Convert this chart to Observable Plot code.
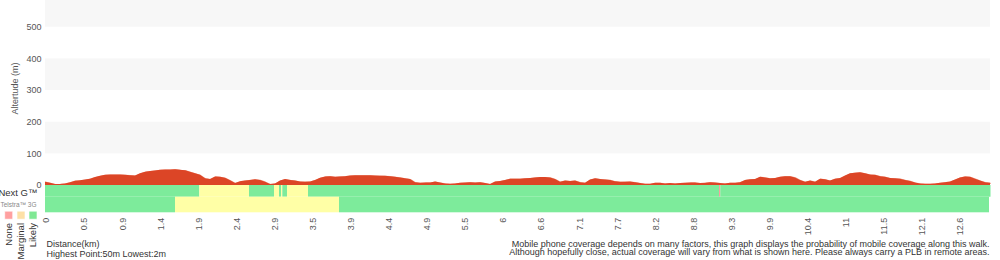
<!DOCTYPE html>
<html>
<head>
<meta charset="utf-8">
<script src="https://cdn.jsdelivr.net/npm/d3@7"></script>
<script src="https://cdn.jsdelivr.net/npm/@observablehq/plot@0.6"></script>
<style>
  html, body { margin: 0; padding: 0; background: #fff; }
  #chart { width: 1000px; height: 260px; }
</style>
</head>
<body>
<div id="chart"></div>
<script>
// ---- data ----
// elevation in metres, one reading per sample step along the walk
const elevation = [
  10.5, 7, 3, 3.5, 5, 8.5, 13.7, 15, 17, 20,
  25, 29, 32, 33, 33, 33, 32, 31, 30, 37,
  42, 44, 46, 48, 49, 49, 50, 48, 47, 42,
  37, 32, 21, 19, 27, 26, 23, 15, 6, 12,
  14, 16, 18, 16, 10.5, 3, 5, 14, 19, 16,
  14, 11, 10.5, 11, 16, 23, 27, 28, 26, 27,
  28, 30, 30.5, 30.5, 30.5, 30.5, 30, 29.5, 29, 28,
  26, 24, 21, 19, 9, 7, 8, 8, 11, 8,
  5, 4, 5, 7, 8, 9, 8, 9, 6, 3,
  11, 12.5, 16, 20, 20, 20, 21, 22, 24, 25,
  25, 24, 19, 10.5, 14, 12.5, 14, 9, 7, 17.5,
  21, 19, 17.5, 16, 12, 10, 10.5, 11, 9, 6,
  4, 4, 7, 7, 5, 6, 5, 6, 7, 8,
  8, 6, 7, 9, 8, 6, 5, 7, 7, 9,
  16, 18, 19, 26, 24, 21, 22, 26, 28, 28,
  24, 16, 10, 14, 10.5, 20, 18, 14, 20, 22,
  30, 37, 39, 40, 37, 33, 32, 28, 26, 22,
  21, 20, 16, 13, 8, 5, 4, 4, 5, 7,
  9, 11, 17.5, 24, 27, 26, 20, 14, 9, 7
];
const tickLabels = ["0","0.5","0.9","1.4","1.9","2.4","2.9","3.5","3.9","4.4","4.9","5.5","6",
  "6.6","7.1","7.7","8.2","8.8","9.3","9.9","10.4","11","11.5","12.1","12.6"];
const levels = ["None", "Marginal", "Likely"];
const networks = ["Next G™", "Telstra™ 3G"];
// coverage segments: [start sample, end sample, level]
const nextGCoverage = [
  [0, 30.86, "Likely"], [30.86, 40.8, "Marginal"], [40.8, 45.8, "Likely"],
  [45.8, 46.8, "Marginal"], [46.8, 47.2, "Likely"], [47.2, 47.46, "Marginal"],
  [47.46, 48.4, "Likely"], [48.4, 52.6, "Marginal"], [52.6, 134.8, "Likely"],
  [134.8, 135.05, "None"], [135.05, 189.1, "Likely"]
];
const telstra3GCoverage = [
  [0, 26, "Likely"], [26, 58.8, "Marginal"], [58.8, 188.8, "Likely"]
];
const highestPoint = 50, lowestPoint = 2;
const yTicks = [0, 100, 200, 300, 400, 500];
const shadedBands = [100, 300, 500];

// ---- layout / style ----
const tickStep = 7.616, tickOffset = 0.2;
const tickPos = tickLabels.map((_, k) => tickOffset + k * tickStep);
const yMax = 584.3, yMin = -86.2;
const rowSplit = -37;
const coverageColors = ["#f7a0a0", "#ffffa6", "#7deb9b"];
const swatchColors = ["#ffa0a0", "#fde0a6", "#7fe894"];
const font = "'Liberation Sans', Arial, Helvetica, sans-serif";

const rows = [
  ...nextGCoverage.map(([a, b, l]) => ({x1: a, x2: b, y1: rowSplit, y2: 0, level: l})),
  ...telstra3GCoverage.map(([a, b, l]) => ({x1: a, x2: b, y1: yMin, y2: rowSplit, level: l}))
];
const legendDx = [-36.8, -24.5, -12.5];

const chart = Plot.plot({
  width: 1000,
  height: 260,
  marginLeft: 45,
  marginRight: 10,
  marginTop: 0,
  marginBottom: 47.7,
  style: {fontFamily: font, fontSize: "9px", color: "#555", background: "#fff", overflow: "visible"},
  x: {domain: [0, elevation.length - 1], axis: null},
  y: {domain: [yMin, yMax], axis: null},
  color: {domain: levels, range: coverageColors},
  marks: [
    Plot.rect(shadedBands, {y1: d => d, y2: d => Math.min(d + 100, yMax), fill: "#f7f7f7"}),
    Plot.lineY(elevation, {x: (d, i) => i, y: d => d, stroke: "#f3a996", strokeWidth: 1.2}),
    Plot.areaY(elevation, {x: (d, i) => i, y: d => d, fill: "#dc4526"}),
    Plot.rect(rows, {x1: "x1", x2: "x2", y1: "y1", y2: "y2", fill: "level"}),
    Plot.axisY(yTicks, {tickSize: 0, tickPadding: 4, fontSize: 9, fill: "#555", label: null}),
    Plot.axisX(tickPos, {
      tickSize: 0, tickPadding: 5, tickRotate: -90, fontSize: 9, fill: "#555", label: null,
      tickFormat: d => tickLabels[tickPos.indexOf(d)]
    }),
    Plot.text(["Altertude (m)"], {frameAnchor: "left", y: 306, dx: -30, rotate: -90,
      textAnchor: "middle", fontSize: 9, fill: "#555"}),
    Plot.text([networks[0]], {frameAnchor: "left", y: -23.7, dx: -8, textAnchor: "end", fontSize: 9.5, fill: "#333"}),
    Plot.text([networks[1]], {frameAnchor: "left", y: -61.6, dx: -9, textAnchor: "end", fontSize: 6.5, fill: "#888"}),
    ...levels.map((l, i) => Plot.dot([l], {frameAnchor: "bottom-left", dx: legendDx[i], dy: 2.4,
      symbol: "square", r: 4.5, fill: swatchColors[i], stroke: "#fff", strokeOpacity: 0.6, strokeWidth: 1})),
    ...levels.map((l, i) => Plot.text([l], {frameAnchor: "bottom-left", dx: legendDx[i], dy: 10.2,
      rotate: -90, textAnchor: "end", lineAnchor: "middle", fontSize: 9.5, fill: "#333"})),
    Plot.text([`Distance(km)\nHighest Point:${highestPoint}m Lowest:${lowestPoint}m`], {
      frameAnchor: "bottom-left", dx: 1, dy: 27.8, textAnchor: "start", lineAnchor: "top",
      lineHeight: 1.06, fontSize: 9, fill: "#333"}),
    Plot.text(["Mobile phone coverage depends on many factors, this graph displays the probability of mobile coverage along this walk.\nAlthough hopefully close, actual coverage will vary from what is shown here. Please always carry a PLB in remote areas."], {
      frameAnchor: "bottom-right", dx: -1, dy: 27.8, textAnchor: "end", lineAnchor: "top",
      lineHeight: 0.95, fontSize: 9, fill: "#333"})
  ]
});
document.getElementById("chart").appendChild(chart);
</script>
</body>
</html>
